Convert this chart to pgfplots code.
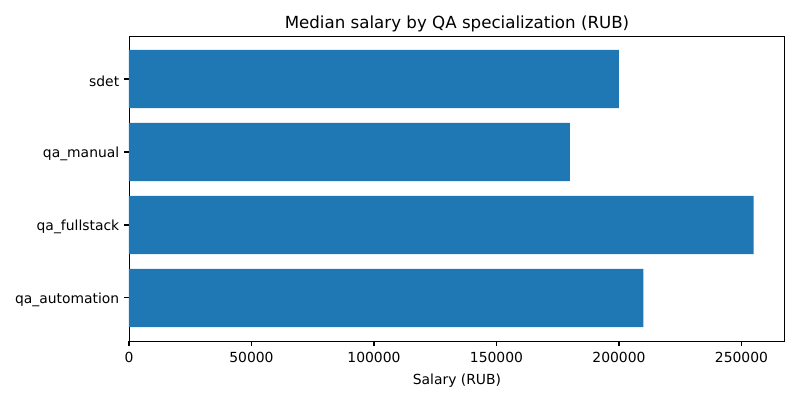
\documentclass[border=0pt]{standalone}
\usepackage{fontspec}
\setmainfont{DejaVu Sans}
\usepackage{pgfplots}
\pgfplotsset{compat=1.18}
\definecolor{mplblue}{HTML}{1F77B4}
\begin{document}
\begin{tikzpicture}[x=1pt,y=1pt]
\path (-92.88pt,-42.48pt) rectangle (483.12pt,245.52pt);
\begin{axis}[
  at={(0pt,0pt)}, anchor=south west,
  scale only axis,
  width=472.3pt, height=219.6pt,
  xbar, bar width=0.8,
  xmin=0, xmax=267750,
  ymin=-0.59, ymax=3.59,
  ytick={0,1,2,3},
  yticklabels={qa\_automation,qa\_fullstack,qa\_manual,sdet},
  xtick={0,50000,100000,150000,200000,250000},
  scaled x ticks=false,
  /pgf/number format/fixed,
  /pgf/number format/1000 sep={},
  /pgf/number format/assume math mode=true,
  tick align=outside,
  tick pos=lower,
  major tick length=3.5pt,
  tick style={black, line width=0.8pt},
  axis line style={line width=0.7pt},
  ticklabel style={font=\fontsize{10}{12}\selectfont},
  yticklabel style={yshift=-1.5pt},
  xticklabel style={yshift=-1pt},
  xlabel={Salary (RUB)},
  xlabel style={font=\fontsize{10}{12}\selectfont, yshift=-1pt},
  title={Median salary by QA specialization (RUB)},
  title style={font=\fontsize{12}{14}\selectfont, yshift=-6.5pt},
]
\addplot[fill=mplblue, draw=none] coordinates {(210000,0) (255000,1) (180000,2) (200000,3)};
\end{axis}
\end{tikzpicture}
\end{document}
